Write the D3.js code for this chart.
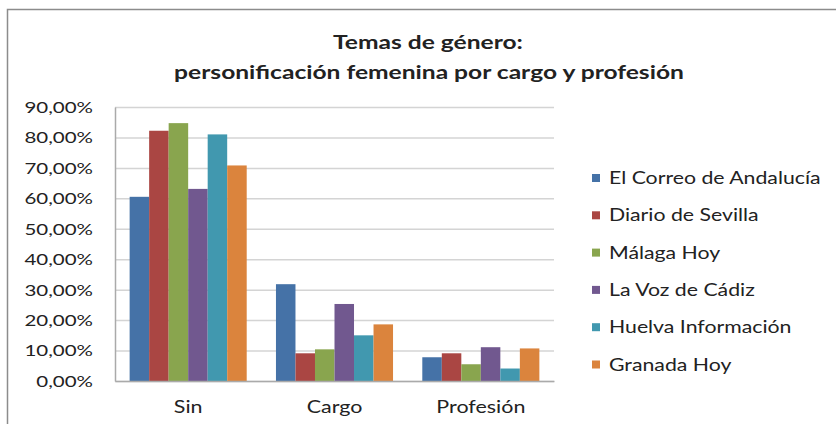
<!DOCTYPE html>
<html>
<head>
<meta charset="utf-8">
<script src="https://cdn.jsdelivr.net/npm/d3@7"></script>
<style>
  body { margin: 0; background: #fff; }
  text { font-family: Lato, "Open Sans", sans-serif; fill: #222; }
</style>
</head>
<body>
<div class="chartArea"></div>
<script>
const categories = ['Sin', 'Cargo', 'Profesión']
const seriesNames = ['El Correo de Andalucía', 'Diario de Sevilla', 'Málaga Hoy',
                     'La Voz de Cádiz', 'Huelva Información', 'Granada Hoy']
const elCorreo = [60.5, 31.8, 7.8]
const diarioSevilla = [82.2, 9.1, 9.1]
const malagaHoy = [84.7, 10.4, 5.5]
const vozCadiz = [63.1, 25.3, 11.1]
const huelvaInfo = [81.0, 15.0, 4.1]
const granadaHoy = [70.8, 18.6, 10.7]
const yTicks = [0, 10, 20, 30, 40, 50, 60, 70, 80, 90]
const colors = ['#4572A7', '#AA4643', '#89A54E', '#71588F', '#4198AF', '#DB843D']

const seriesValues = [elCorreo, diarioSevilla, malagaHoy, vozCadiz, huelvaInfo, granadaHoy]

const width = 836, height = 424
const plot = {left: 115, right: 554, top: 107, bottom: 381}

// the source picture is stretched sideways, so text gets widened too
function widen(sel, k) {
  sel.each(function() {
    const len = this.getComputedTextLength()
    d3.select(this).attr('textLength', len * k).attr('lengthAdjust', 'spacingAndGlyphs')
  })
}

const svg = d3.select('.chartArea')
    .append('svg')
    .attr('width', width)
    .attr('height', height)

// outer frame of the chart object
svg.append('rect')
    .attr('x', 7.5).attr('y', 9.5)
    .attr('width', 900).attr('height', 500)
    .attr('fill', 'none')
    .attr('stroke', '#8c8c8c')
    .attr('stroke-width', 1.5)

// title
const title = svg.append('text')
    .attr('text-anchor', 'middle')
    .style('font-weight', 'bold')
    .style('font-size', '19.5px')
title.append('tspan').attr('x', 428).attr('y', 49).text('Temas de género:')
title.append('tspan').attr('x', 429).attr('y', 79).text('personificación femenina por cargo y profesión')
widen(title.selectAll('tspan'), 1.26)

const yScale = d3.scaleLinear()
    .domain([0, 90])
    .range([plot.bottom, plot.top])

const x0 = d3.scaleBand()
    .domain(categories)
    .range([plot.left, plot.right])
    .paddingInner(0.2)
    .paddingOuter(0.1)

const x1 = d3.scaleBand()
    .domain(d3.range(seriesNames.length))
    .range([0, x0.bandwidth()])

// gridlines
svg.append('g')
    .selectAll('line')
    .data(yTicks)
    .enter()
    .append('line')
    .attr('x1', plot.left).attr('x2', plot.right)
    .attr('y1', d => yScale(d) + 0.5).attr('y2', d => yScale(d) + 0.5)
    .attr('stroke', '#d4d4d4')
    .attr('stroke-width', 1.5)

// y axis
const yAxis = d3.axisLeft(yScale)
    .tickValues(yTicks)
    .tickSize(0)
    .tickPadding(22)
    .tickFormat(d => d3.format('.2f')(d).replace('.', ',') + '%')

svg.append('g')
    .attr('transform', `translate(${plot.left}, 0)`)
    .call(yAxis)
    .call(g => g.select('.domain').attr('stroke', '#aaa').attr('stroke-width', 1.5))
    .call(g => g.selectAll('text').style('font-size', '15.5px').attr('fill', '#222').attr('dy', '0.35em'))
    .call(g => widen(g.selectAll('text'), 1.32))

// bars
const groups = svg.append('g')
    .selectAll('g')
    .data(categories)
    .enter()
    .append('g')
    .attr('transform', d => `translate(${x0(d)}, 0)`)

groups.selectAll('rect')
    .data((c, ci) => seriesValues.map((s, si) => ({si: si, v: s[ci]})))
    .enter()
    .append('rect')
    .attr('x', d => x1(d.si))
    .attr('width', x1.bandwidth())
    .attr('y', d => yScale(d.v))
    .attr('height', d => yScale(0) - yScale(d.v))
    .attr('fill', d => colors[d.si])

// x axis
const xAxis = d3.axisBottom(x0).tickSize(0).tickPadding(20)
svg.append('g')
    .attr('transform', `translate(0, ${plot.bottom})`)
    .call(xAxis)
    .call(g => g.select('.domain').attr('stroke', '#aaa').attr('stroke-width', 1.5))
    .call(g => g.selectAll('text').style('font-size', '16.5px').attr('fill', '#222'))
    .call(g => widen(g.selectAll('text'), 1.3))

// legend
const legend = svg.append('g')
    .selectAll('g')
    .data(seriesNames)
    .enter()
    .append('g')
    .attr('transform', (d, i) => `translate(592, ${178 + i * 37.3})`)

legend.append('rect')
    .attr('x', 0).attr('y', -4)
    .attr('width', 8).attr('height', 8)
    .attr('fill', (d, i) => colors[i])

legend.append('text')
    .attr('x', 17)
    .attr('dy', '0.36em')
    .style('font-size', '17px')
    .text(d => d)
    .call(widen, 1.25)
</script>
</body>
</html>
